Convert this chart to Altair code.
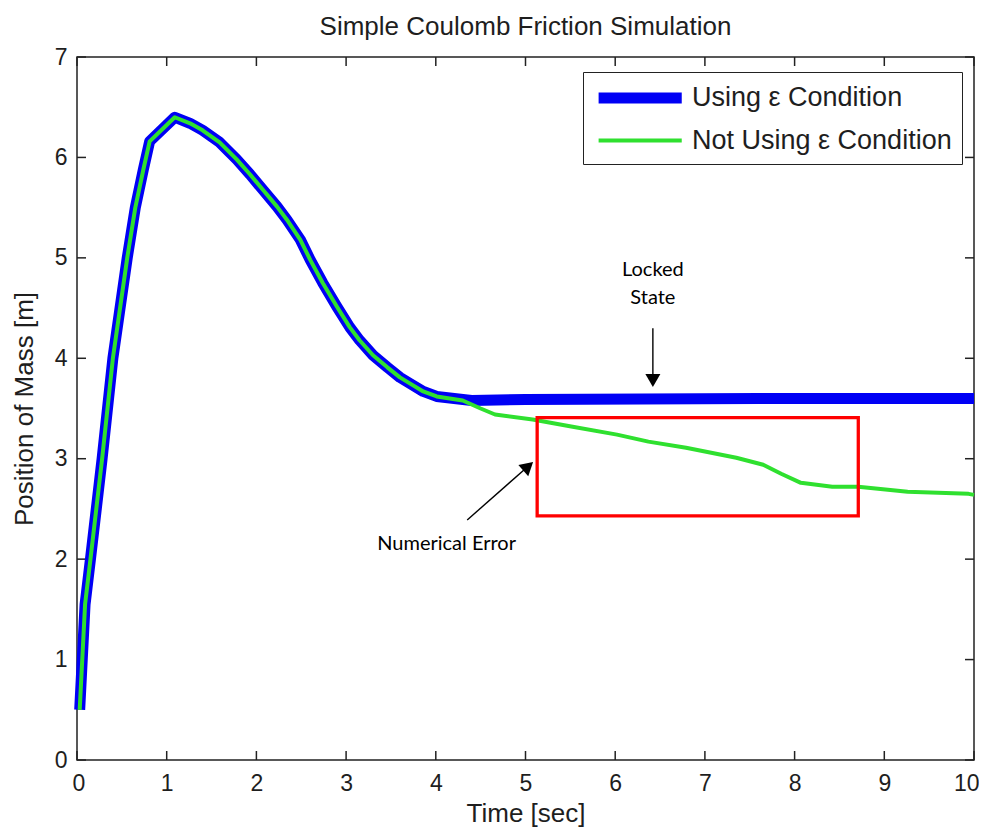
import altair as alt
import pandas as pd

# ---------------- data ----------------
S_EPS = "Using ε Condition"
S_NOEPS = "Not Using ε Condition"

# part shared by both simulations (time [s], position [m])
t_shared = [0.03, 0.09, 0.15, 0.28, 0.40, 0.56, 0.65, 0.74, 0.81, 1.09, 1.26,
            1.40, 1.59, 1.78, 1.93, 2.07, 2.23, 2.34, 2.49, 2.60, 2.74, 2.90,
            3.04, 3.15, 3.30, 3.46, 3.60, 3.71, 3.86, 4.01]
x_shared = [0.50, 1.55, 2.00, 3.00, 4.00, 5.00, 5.50, 5.88, 6.16, 6.40, 6.34,
            6.27, 6.15, 5.98, 5.83, 5.68, 5.51, 5.38, 5.18, 4.98, 4.75, 4.51,
            4.31, 4.18, 4.03, 3.91, 3.81, 3.75, 3.67, 3.62]

# locked state (using epsilon condition)
t_eps_tail = [4.40, 5.00, 7.60, 10.0]
x_eps_tail = [3.58, 3.59, 3.60, 3.60]

# drifting state (not using epsilon condition)
t_noeps_tail = [4.30, 4.50, 4.66, 5.08, 5.51, 6.02, 6.37, 6.79, 7.35, 7.65,
                7.85, 8.07, 8.42, 8.71, 9.26, 9.94, 10.0]
x_noeps_tail = [3.58, 3.50, 3.44, 3.39, 3.32, 3.24, 3.17, 3.11, 3.01, 2.94,
                2.85, 2.76, 2.72, 2.72, 2.67, 2.65, 2.64]

x_ticks = [0, 1, 2, 3, 4, 5, 6, 7, 8, 9, 10]
y_ticks = [0, 1, 2, 3, 4, 5, 6, 7]

# red highlight box (time range, position range)
box_t = [5.13, 8.71]
box_x = [3.41, 2.43]

# annotation arrows: tail -> head (time, position)
arrow_names = ["numerical", "numerical", "locked", "locked"]
arrow_t = [4.35, 5.03, 6.42, 6.42]
arrow_x = [2.39, 2.925, 4.30, 3.78]
head_t = [5.03, 6.42]
head_x = [2.925, 3.78]
head_angle = [48.7, 180]

# annotation texts
ann_labels = ["Locked", "State", "Numerical Error"]
ann_t = [6.42, 6.42, 4.12]
ann_x = [4.88, 4.60, 2.15]

# ---------------- tables ----------------
lines = pd.DataFrame({
    "t": t_shared + t_eps_tail + t_shared + t_noeps_tail,
    "pos": x_shared + x_eps_tail + x_shared + x_noeps_tail,
    "series": [S_EPS] * (len(t_shared) + len(t_eps_tail))
              + [S_NOEPS] * (len(t_shared) + len(t_noeps_tail)),
})
box_df = pd.DataFrame({"t": [box_t[0]], "t2": [box_t[1]],
                       "pos": [box_x[0]], "pos2": [box_x[1]]})
arrows_df = pd.DataFrame({"t": arrow_t, "pos": arrow_x, "arrow": arrow_names})
heads_df = pd.DataFrame({"t": head_t, "pos": head_x, "ang": head_angle})
ann_df = pd.DataFrame({"t": ann_t, "pos": ann_x, "label": ann_labels})
xt_df = pd.DataFrame({"t": x_ticks})
yt_df = pd.DataFrame({"pos": y_ticks})

# ---------------- styling ----------------
W, H = 897, 703
FONT = "Liberation Sans"
TXT = "#1e1e1e"
TICK = 9

xs = alt.Scale(domain=[0, 10], nice=False, zero=False)
ys = alt.Scale(domain=[0, 7], nice=False, zero=False)

x_axis = alt.Axis(values=x_ticks, ticks=False, domain=False, grid=False,
                  labelFont=FONT, labelFontSize=23, labelColor=TXT,
                  labelPadding=12, labelFlush=True, labelFlushOffset=5,
                  labelOverlap=False,
                  format="d", title="Time [sec]", titleFont=FONT,
                  titleFontSize=26, titleFontWeight="normal",
                  titleColor=TXT, titlePadding=5)
y_axis = alt.Axis(values=y_ticks, ticks=False, domain=False, grid=False,
                  labelFont=FONT, labelFontSize=23, labelColor=TXT,
                  labelPadding=10, labelFlush=False, labelOverlap=False,
                  format="d", title="Position of Mass [m]", titleFont=FONT,
                  titleFontSize=26, titleFontWeight="normal",
                  titleColor=TXT, titlePadding=17)


def X(field="t"):
    return alt.X(f"{field}:Q", scale=xs, axis=x_axis)


def Y(field="pos"):
    return alt.Y(f"{field}:Q", scale=ys, axis=y_axis)


color_scale = alt.Scale(domain=[S_EPS, S_NOEPS], range=["#0000f5", "#2fe02f"])
width_scale = alt.Scale(domain=[S_EPS, S_NOEPS], range=[11, 4])
leg = alt.Legend(title=None, orient="none", legendX=506, legendY=15,
                 symbolType="M-1,0H7", symbolSize=432, labelOffset=67,
                 labelFont=FONT, labelFontSize=27, labelColor=TXT,
                 labelLimit=0, padding=10, rowPadding=6,
                 strokeColor="#222222", fillColor="white")

base = alt.Chart(lines)
line_eps = base.transform_filter(alt.datum.series == S_EPS).mark_line(
    strokeCap="butt", strokeJoin="round").encode(
    x=X(), y=Y(),
    color=alt.Color("series:N", scale=color_scale, legend=leg),
    strokeWidth=alt.StrokeWidth("series:N", scale=width_scale, legend=leg),
)
line_noeps = base.transform_filter(alt.datum.series == S_NOEPS).mark_line(
    strokeCap="butt", strokeJoin="round").encode(
    x=X(), y=Y(),
    color=alt.Color("series:N", scale=color_scale, legend=leg),
    strokeWidth=alt.StrokeWidth("series:N", scale=width_scale, legend=leg),
)

box = alt.Chart(box_df).mark_rect(fill=None, stroke="#ff0000",
                                  strokeWidth=3.3).encode(
    x=X(), x2="t2:Q", y=Y(), y2="pos2:Q")

arrow_lines = alt.Chart(arrows_df).mark_line(color="black",
                                             strokeWidth=1.4).encode(
    x=X(), y=Y(), detail="arrow:N")
arrow_heads = alt.Chart(heads_df).mark_point(
    shape="triangle-up", filled=True, size=225, color="black",
    opacity=1).encode(x=X(), y=Y(), angle=alt.Angle("ang:Q", scale=None))

ann = alt.Chart(ann_df).mark_text(font="Lato", fontSize=20, color="black",
                                  align="center", baseline="middle").encode(
    x=X(), y=Y(), text="label:N")

tick_style = dict(color="#222222", strokeWidth=1.5)
bottom_ticks = alt.Chart(xt_df).mark_rule(**tick_style).encode(
    x=X(), y=alt.value(H), y2=alt.value(H - TICK))
top_ticks = alt.Chart(xt_df).mark_rule(**tick_style).encode(
    x=X(), y=alt.value(0), y2=alt.value(TICK))
left_ticks = alt.Chart(yt_df).mark_rule(**tick_style).encode(
    y=Y(), x=alt.value(0), x2=alt.value(TICK))
right_ticks = alt.Chart(yt_df).mark_rule(**tick_style).encode(
    y=Y(), x=alt.value(W), x2=alt.value(W - TICK))

chart = alt.layer(
    bottom_ticks, top_ticks, left_ticks, right_ticks,
    line_eps, line_noeps, box, arrow_lines, arrow_heads, ann,
).properties(
    width=W, height=H,
    autosize=alt.AutoSizeParams(type="none"),
    padding={"left": 69, "top": 49, "right": 5, "bottom": 67},
    title=alt.TitleParams("Simple Coulomb Friction Simulation", font=FONT,
                          fontSize=26, fontWeight="normal", color=TXT,
                          anchor="middle", offset=6),
    background="white",
).configure_view(stroke="#222222", strokeWidth=1.5)

chart.save("out.html", embed_options={"renderer": "svg", "actions": False})
